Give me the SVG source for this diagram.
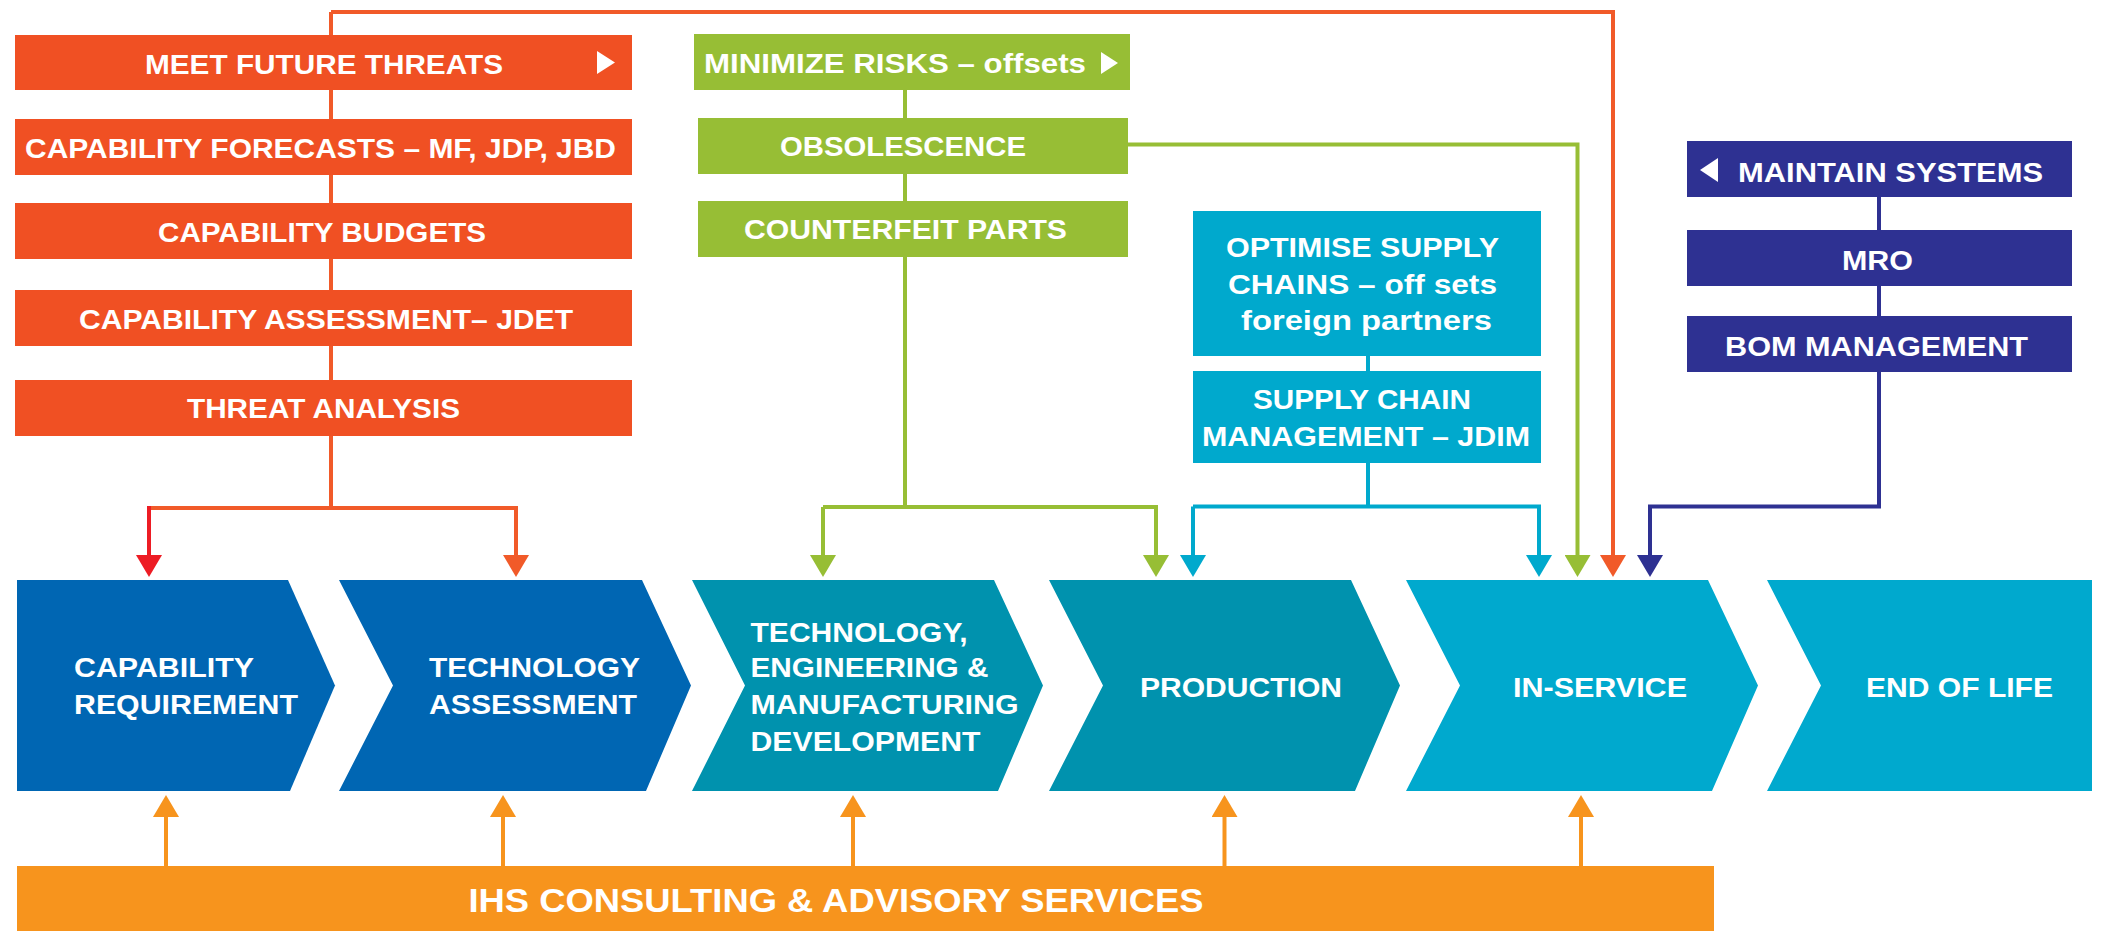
<svg xmlns="http://www.w3.org/2000/svg" width="2101" height="931" viewBox="0 0 2101 931">
<style>
text{font-family:"Liberation Sans",Arial,sans-serif;font-weight:bold;fill:#fff;font-size:27px}
.c{text-anchor:middle}
.ln{fill:none;stroke-width:4}
.rd{stroke:#F15A29}
.rr{stroke:#ED1C24}
.gr{stroke:#97BE35}
.cy{stroke:#00A9CD}
.nv{stroke:#2E3192}
.og{stroke:#F7941D}
.bOr{fill:#F05023}
.bGr{fill:#97BE35}
.bCy{fill:#00A9CD}
.bNv{fill:#2E3192}
</style>
<defs>
<marker id="aRd" markerUnits="userSpaceOnUse" markerWidth="22" markerHeight="26" refX="0" refY="13" orient="auto"><path d="M0,0 L22,13 L0,26 Z" fill="#F15A29"/></marker>
<marker id="aRr" markerUnits="userSpaceOnUse" markerWidth="22" markerHeight="26" refX="0" refY="13" orient="auto"><path d="M0,0 L22,13 L0,26 Z" fill="#ED1C24"/></marker>
<marker id="aGr" markerUnits="userSpaceOnUse" markerWidth="22" markerHeight="26" refX="0" refY="13" orient="auto"><path d="M0,0 L22,13 L0,26 Z" fill="#97BE35"/></marker>
<marker id="aCy" markerUnits="userSpaceOnUse" markerWidth="22" markerHeight="26" refX="0" refY="13" orient="auto"><path d="M0,0 L22,13 L0,26 Z" fill="#00A9CD"/></marker>
<marker id="aNv" markerUnits="userSpaceOnUse" markerWidth="22" markerHeight="26" refX="0" refY="13" orient="auto"><path d="M0,0 L22,13 L0,26 Z" fill="#2E3192"/></marker>
<marker id="aOg" markerUnits="userSpaceOnUse" markerWidth="22" markerHeight="26" refX="0" refY="13" orient="auto"><path d="M0,0 L22,13 L0,26 Z" fill="#F7941D"/></marker>
</defs>
<rect width="2101" height="931" fill="#fff"/>

<g id="connectors">
<path class="ln rd" d="M331,12 V508"/>
<path class="ln rd" d="M331,12 H1613 V555" marker-end="url(#aRd)"/>
<path class="ln rd" d="M149,508 H516 V555" marker-end="url(#aRd)"/>
<path class="ln rr" d="M149,506 V555" marker-end="url(#aRr)"/>
<path class="ln gr" d="M905,60 V507"/>
<path class="ln gr" d="M823,507 H1156 V555" marker-end="url(#aGr)"/>
<path class="ln gr" d="M823,507 V555" marker-end="url(#aGr)"/>
<path class="ln gr" d="M1128,144.5 H1577.5 V555" marker-end="url(#aGr)"/>
<path class="ln cy" d="M1368,300 V506.5"/>
<path class="ln cy" d="M1193,506.5 H1539 V555" marker-end="url(#aCy)"/>
<path class="ln cy" d="M1193,506.5 V555" marker-end="url(#aCy)"/>
<path class="ln nv" d="M1879,170 V506.5 H1650 V555" marker-end="url(#aNv)"/>
<path class="ln og" d="M166,866 V817" marker-end="url(#aOg)"/>
<path class="ln og" d="M503,866 V817" marker-end="url(#aOg)"/>
<path class="ln og" d="M853,866 V817" marker-end="url(#aOg)"/>
<path class="ln og" d="M1224.5,866 V817" marker-end="url(#aOg)"/>
<path class="ln og" d="M1581,866 V817" marker-end="url(#aOg)"/>
</g>

<g id="meet-future-threats"><rect class="bOr" x="15" y="35" width="617" height="55"/><text class="c" x="324" y="74" textLength="358" lengthAdjust="spacingAndGlyphs">MEET FUTURE THREATS</text><path d="M597,51 L615,62.5 L597,74 Z" fill="#fff"/></g>
<g id="capability-forecasts"><rect class="bOr" x="15" y="119" width="617" height="56"/><text class="c" x="320.5" y="158" textLength="591" lengthAdjust="spacingAndGlyphs">CAPABILITY FORECASTS – MF, JDP, JBD</text></g>
<g id="capability-budgets"><rect class="bOr" x="15" y="203" width="617" height="56"/><text class="c" x="322" y="242" textLength="328" lengthAdjust="spacingAndGlyphs">CAPABILITY BUDGETS</text></g>
<g id="capability-assessment"><rect class="bOr" x="15" y="290" width="617" height="56"/><text class="c" x="326" y="328.5" textLength="494" lengthAdjust="spacingAndGlyphs">CAPABILITY ASSESSMENT– JDET</text></g>
<g id="threat-analysis"><rect class="bOr" x="15" y="380" width="617" height="56"/><text class="c" x="323.5" y="418" textLength="273" lengthAdjust="spacingAndGlyphs">THREAT ANALYSIS</text></g>

<g id="minimize-risks"><rect class="bGr" x="694" y="34" width="436" height="56"/><text class="c" x="895" y="73" textLength="382" lengthAdjust="spacingAndGlyphs">MINIMIZE RISKS – offsets</text><path d="M1101,52 L1118,63 L1101,74 Z" fill="#fff"/></g>
<g id="obsolescence"><rect class="bGr" x="698" y="118" width="430" height="56"/><text class="c" x="903" y="156" textLength="246" lengthAdjust="spacingAndGlyphs">OBSOLESCENCE</text></g>
<g id="counterfeit-parts"><rect class="bGr" x="698" y="201" width="430" height="56"/><text class="c" x="905.5" y="239" textLength="323" lengthAdjust="spacingAndGlyphs">COUNTERFEIT PARTS</text></g>

<g id="optimise-supply-chains"><rect class="bCy" x="1193" y="211" width="348" height="145"/>
<text class="c" x="1362.5" y="257" textLength="273" lengthAdjust="spacingAndGlyphs">OPTIMISE SUPPLY</text>
<text class="c" x="1362.5" y="293.5" textLength="269" lengthAdjust="spacingAndGlyphs">CHAINS – off sets</text>
<text class="c" x="1366.5" y="330" textLength="251" lengthAdjust="spacingAndGlyphs">foreign partners</text></g>
<g id="supply-chain-management"><rect class="bCy" x="1193" y="371" width="348" height="92"/>
<text class="c" x="1362" y="408.5" textLength="218" lengthAdjust="spacingAndGlyphs">SUPPLY CHAIN</text>
<text class="c" x="1366" y="445.5" textLength="328" lengthAdjust="spacingAndGlyphs">MANAGEMENT – JDIM</text></g>

<g id="maintain-systems"><rect class="bNv" x="1687" y="141" width="385" height="56"/><text class="c" x="1890.5" y="182" textLength="305" lengthAdjust="spacingAndGlyphs">MAINTAIN SYSTEMS</text><path d="M1718,158 L1700,170 L1718,182 Z" fill="#fff"/></g>
<g id="mro"><rect class="bNv" x="1687" y="230" width="385" height="56"/><text class="c" x="1877.5" y="269.5" textLength="71" lengthAdjust="spacingAndGlyphs">MRO</text></g>
<g id="bom-management"><rect class="bNv" x="1687" y="316" width="385" height="56"/><text class="c" x="1876.5" y="355.5" textLength="303" lengthAdjust="spacingAndGlyphs">BOM MANAGEMENT</text></g>

<g id="capability-requirement"><path d="M17,580 L288,580 L335,685.5 L290,791 L17,791 Z" fill="#0066B3"/>
<text x="74" y="677" textLength="180" lengthAdjust="spacingAndGlyphs">CAPABILITY</text>
<text x="74" y="714" textLength="224" lengthAdjust="spacingAndGlyphs">REQUIREMENT</text></g>
<g id="technology-assessment"><path d="M339,580 L642,580 L691,685.5 L646,791 L339,791 L393,685.5 Z" fill="#0066B3"/>
<text x="429" y="677" textLength="211" lengthAdjust="spacingAndGlyphs">TECHNOLOGY</text>
<text x="429" y="714" textLength="208" lengthAdjust="spacingAndGlyphs">ASSESSMENT</text></g>
<g id="temd"><path d="M692,580 L994,580 L1043,685.5 L998,791 L692,791 L745,685.5 Z" fill="#0092AE"/>
<text x="750.5" y="642" textLength="217" lengthAdjust="spacingAndGlyphs">TECHNOLOGY,</text>
<text x="750.5" y="677" textLength="238" lengthAdjust="spacingAndGlyphs">ENGINEERING &amp;</text>
<text x="750.5" y="714" textLength="268" lengthAdjust="spacingAndGlyphs">MANUFACTURING</text>
<text x="750.5" y="751" textLength="230" lengthAdjust="spacingAndGlyphs">DEVELOPMENT</text></g>
<g id="production"><path d="M1049,580 L1351,580 L1400,685.5 L1355,791 L1049,791 L1103,685.5 Z" fill="#0092AE"/>
<text class="c" x="1241" y="697" textLength="202" lengthAdjust="spacingAndGlyphs">PRODUCTION</text></g>
<g id="in-service"><path d="M1406,580 L1708,580 L1758,685.5 L1712,791 L1406,791 L1460,685.5 Z" fill="#00A9CE"/>
<text class="c" x="1600" y="697" textLength="174" lengthAdjust="spacingAndGlyphs">IN-SERVICE</text></g>
<g id="end-of-life"><path d="M1767,580 L2092,580 L2092,791 L1767,791 L1821,685.5 Z" fill="#00A9CE"/>
<text class="c" x="1959.5" y="697" textLength="187" lengthAdjust="spacingAndGlyphs">END OF LIFE</text></g>

<g id="ihs-consulting"><rect x="17" y="866" width="1697" height="65" fill="#F7941D"/>
<text class="c" x="836" y="912" style="font-size:33px" textLength="735" lengthAdjust="spacingAndGlyphs">IHS CONSULTING &amp; ADVISORY SERVICES</text></g>
</svg>
